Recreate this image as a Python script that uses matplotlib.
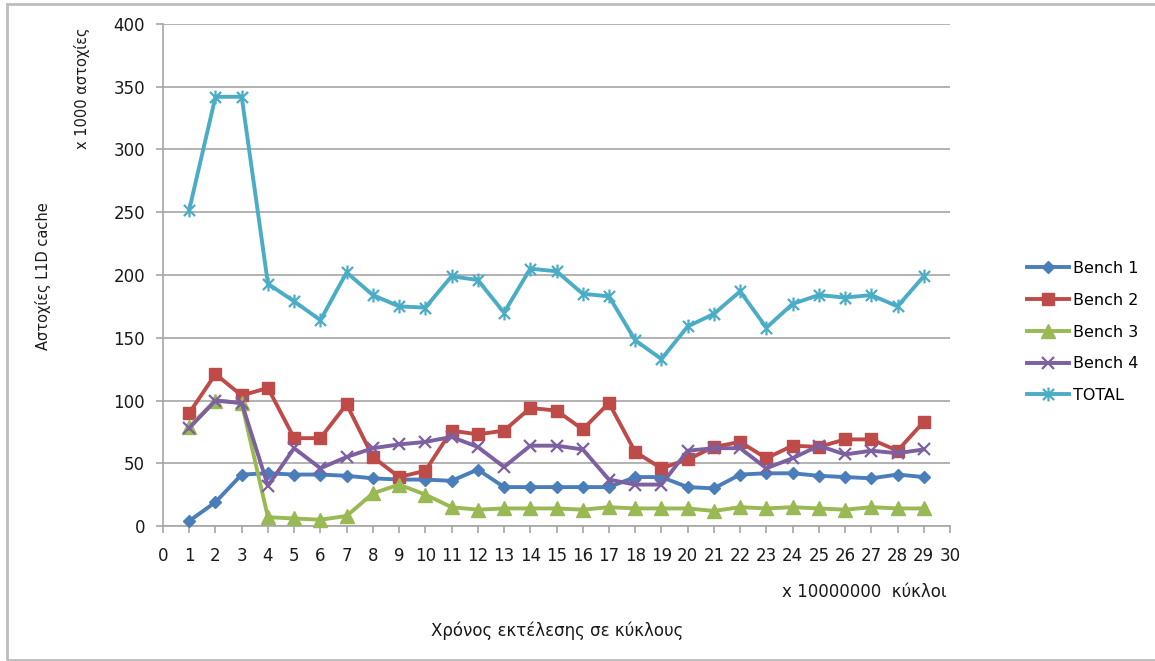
import matplotlib
matplotlib.use("Agg")
import matplotlib.pyplot as plt
from matplotlib.path import Path
from matplotlib.patches import Rectangle

plt.rcParams['font.family'] = ['DejaVu Sans']

# Execution time (x 10,000,000 cycles)
cycles = list(range(1, 30))

# L1D cache misses (x 1000) per benchmark
bench1 = [4, 19, 41, 42, 41, 41, 40, 38, 37, 37, 36, 45, 31, 31, 31,
          31, 31, 39, 39, 31, 30, 41, 42, 42, 40, 39, 38, 41, 39]
bench2 = [90, 121, 104, 110, 70, 70, 97, 55, 39, 44, 76, 73, 76, 94, 92,
          77, 98, 59, 46, 53, 63, 67, 54, 64, 63, 69, 69, 60, 83]
bench3 = [79, 100, 98, 7, 6, 5, 8, 26, 33, 25, 15, 13, 14, 14, 14,
          13, 15, 14, 14, 14, 12, 15, 14, 15, 14, 13, 15, 14, 14]
bench4 = [78, 100, 98, 32, 62, 46, 55, 62, 65, 67, 71, 63, 47, 64, 64,
          61, 37, 33, 33, 60, 62, 62, 46, 54, 64, 57, 60, 58, 61]
total = [252, 342, 342, 193, 179, 164, 202, 184, 175, 174, 199, 196, 170, 205, 203,
         185, 183, 148, 133, 159, 169, 187, 158, 177, 184, 182, 184, 175, 199]

series_names = ["Bench 1", "Bench 2", "Bench 3", "Bench 4", "TOTAL"]
series_values = [bench1, bench2, bench3, bench4, total]

x_ticks = list(range(0, 31))
y_ticks = list(range(0, 401, 50))

# asterisk marker: an X crossed by a vertical bar
star = Path([(-1, -1), (1, 1), (-1, 1), (1, -1), (0, -1.25), (0, 1.25)],
            [Path.MOVETO, Path.LINETO, Path.MOVETO, Path.LINETO, Path.MOVETO, Path.LINETO])

styles = [
    dict(color="#4A7EBB", marker="D", markersize=6.5),
    dict(color="#BE4B48", marker="s", markersize=9),
    dict(color="#98B954", marker="^", markersize=10),
    dict(color="#7D60A0", marker="x", markersize=9, markeredgewidth=1.6),
    dict(color="#4BACC6", marker=star, markersize=10, markeredgewidth=1.6),
]

fig = plt.figure(figsize=(11.55, 6.61), dpi=100)
ax = fig.add_axes([163 / 1155, 1 - 526 / 661, (950 - 163) / 1155, (526 - 24) / 661])

handles = []
for name, vals, st in zip(series_names, series_values, styles):
    h, = ax.plot(cycles, vals, label=name, linewidth=2.8, color=st["color"],
                 marker=st["marker"], markersize=st["markersize"],
                 markerfacecolor=st["color"], markeredgecolor=st["color"],
                 markeredgewidth=st.get("markeredgewidth", 1.0),
                 solid_joinstyle="round", clip_on=False, zorder=3)
    handles.append(h)

ax.set_xlim(0, 30)
ax.set_ylim(0, 400)
ax.set_xticks(x_ticks)
ax.set_yticks(y_ticks)
ax.yaxis.grid(True, color="#A6A6A6", linewidth=1.2)
ax.set_axisbelow(True)
for side in ("top", "right"):
    ax.spines[side].set_visible(False)
for side in ("left", "bottom"):
    ax.spines[side].set_color("#A6A6A6")
    ax.spines[side].set_linewidth(1.2)
ax.tick_params(axis="both", colors="#A6A6A6", labelcolor="#1a1a1a", labelsize=12,
               length=5, width=1.2, direction="out")
ax.tick_params(axis="y", pad=8)
ax.tick_params(axis="x", pad=10)

fig.legend(handles=handles, labels=series_names, loc="center left",
           bbox_to_anchor=(1027 / 1155, 1 - 332 / 661), frameon=False,
           fontsize=11.5, handlelength=2.6, handletextpad=0.3, labelspacing=1.05,
           borderpad=0, borderaxespad=0)

fig.text(82 / 1155, 1 - 88 / 661, "x 1000 αστοχίες", rotation=90,
         ha="center", va="center", fontsize=10.5, color="#1a1a1a")
fig.text(43 / 1155, 1 - 276 / 661, "Αστοχίες L1D cache", rotation=90,
         ha="center", va="center", fontsize=10.5, color="#1a1a1a")
fig.text(864 / 1155, 1 - 592 / 661, "x 10000000  κύκλοι",
         ha="center", va="center", fontsize=12, color="#1a1a1a")
fig.text(557 / 1155, 1 - 631 / 661, "Χρόνος εκτέλεσης σε κύκλους",
         ha="center", va="center", fontsize=12, color="#1a1a1a")

# light frame around the chart area
fig.patches.append(Rectangle((7 / 1155, 1 / 661), 1.2, 1 - 5 / 661, transform=fig.transFigure,
                             fill=False, edgecolor="#BDBDBD", linewidth=2, clip_on=False))

fig.savefig("out.png", dpi=100)
